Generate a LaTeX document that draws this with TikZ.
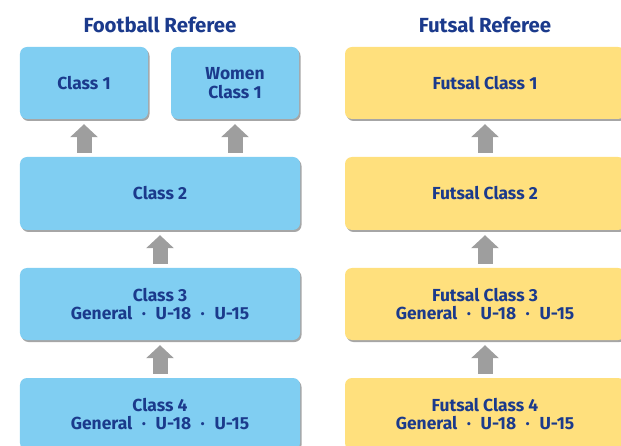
\documentclass[tikz,border=0pt]{standalone}
\usepackage{fontspec}
\setmainfont{Fira Sans}
\usetikzlibrary{arrows.meta,shadows}
\definecolor{txtblue}{HTML}{1B3A8C}
\definecolor{boxblue}{HTML}{80CEF2}
\definecolor{boxyellow}{HTML}{FFE07D}
\definecolor{arrgray}{HTML}{9E9E9E}
\newcommand{\sepdot}{\hspace{0.55em}·\hspace{0.55em}}
\tikzset{
  box/.style={rounded corners=7bp, minimum height=72bp, align=center,
    text=txtblue, font=\fontsize{17.5}{19}\selectfont\bfseries,
    drop shadow={shadow xshift=1.5bp, shadow yshift=-2bp, opacity=0.35, fill=black}},
  fbox/.style={box, fill=boxblue},
  ybox/.style={box, fill=boxyellow},
  title/.style={text=txtblue, font=\fontsize{20.5}{22}\selectfont\bfseries},
  uparr/.style={draw=arrgray, line width=15bp,
    -{Triangle[length=13bp,width=27bp]}, shorten <=4bp, shorten >=5bp}
}
\begin{document}
\begin{tikzpicture}[x=1bp,y=-1bp]
\useasboundingbox (0,0) rectangle (621,446);
\node[title] (t1) at (160,25) {Football Referee};
\node[title] (t2) at (485,25) {Futsal Referee};
% football
\node[fbox, minimum width=128bp] (c1) at (84,83) {Class 1};
\node[fbox, minimum width=128bp] (w1) at (235,83) {Women\\Class 1};
\node[fbox, minimum width=280bp, minimum height=73bp] (c2) at (160,193.5) {Class 2};
\node[fbox, minimum width=280bp] (c3) at (160,304) {Class 3\\General\sepdot U-18\sepdot U-15};
\node[fbox, minimum width=280bp] (c4) at (160,414) {Class 4\\General\sepdot U-18\sepdot U-15};
% futsal
\node[ybox, minimum width=280bp] (f1) at (485,83) {Futsal Class 1};
\node[ybox, minimum width=280bp, minimum height=73bp] (f2) at (485,193.5) {Futsal Class 2};
\node[ybox, minimum width=280bp] (f3) at (485,304) {Futsal Class 3\\General\sepdot U-18\sepdot U-15};
\node[ybox, minimum width=280bp] (f4) at (485,414) {Futsal Class 4\\General\sepdot U-18\sepdot U-15};
% arrows
\draw[uparr] (c2.north -| c1.south) -- (c1.south);
\draw[uparr] (c2.north -| w1.south) -- (w1.south);
\draw[uparr] (c3.north) -- (c2.south);
\draw[uparr] (c4.north) -- (c3.south);
\draw[uparr] (f2.north) -- (f1.south);
\draw[uparr] (f3.north) -- (f2.south);
\draw[uparr] (f4.north) -- (f3.south);
\end{tikzpicture}
\end{document}
